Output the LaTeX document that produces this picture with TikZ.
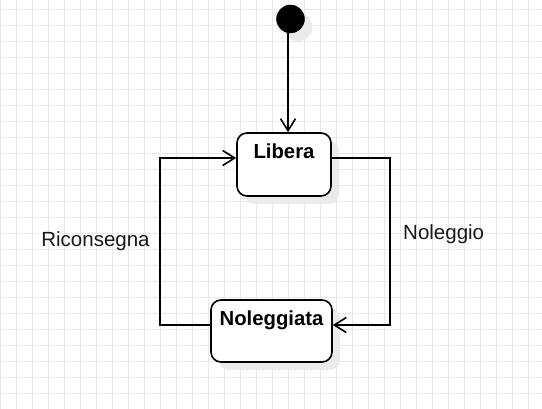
\documentclass[tikz,border=0pt]{standalone}
\usepackage{fontspec}
\setmainfont{Liberation Sans}
\usetikzlibrary{arrows.meta,calc}
\begin{document}
\begin{tikzpicture}[x=1pt,y=-1pt,
  gridline/.style={draw=black!9,line width=0.7pt},
  statebox/.style={draw=black,line width=1.6pt,fill=white,rounded corners=10pt,inner sep=0pt},
  shadowbox/.style={fill=black!8,rounded corners=10pt,draw=none,inner sep=0pt},
  conn/.style={draw=black,line width=1.6pt},
  arr/.style={conn,-{Straight Barb[length=12pt,width=15pt,line width=1.6pt]}},
  lbl/.style={font=\fontsize{20.5}{24}\selectfont,text=black!90,anchor=base,inner sep=0pt},
  stt/.style={font=\fontsize{20.3}{24}\selectfont\bfseries,anchor=base,inner sep=0pt}]
\useasboundingbox (0,0) rectangle (542,409);
\fill[white] (0,0) rectangle (542,409);
% grid
\foreach \i in {0,...,33} {\draw[gridline] (0.3+16*\i,0) -- (0.3+16*\i,409);}
\foreach \j in {0,...,25} {\draw[gridline] (0,9.3+16*\j) -- (542,9.3+16*\j);}
% shadows
\fill[black!8] (298.5,27) circle (14);
\node[shadowbox,minimum width=94pt,minimum height=63pt] at (292,172.5) {};
\node[shadowbox,minimum width=121pt,minimum height=62pt] at (279.5,339) {};
% nodes
\node[circle,fill=black,draw=black,inner sep=0pt,minimum size=28pt] (init) at (290.5,19) {};
\node[statebox,minimum width=94pt,minimum height=63pt,
  label={[stt,yshift=-26.3pt]north:Libera}] (libera) at (284,164.5) {};
\node[statebox,minimum width=121pt,minimum height=62pt,
  label={[stt,yshift=-26.7pt]north:Noleggiata}] (noleggiata) at (271.5,331) {};
% connectors
\draw[arr] ([xshift=-2.5pt]init.south) -- ([xshift=-2.5pt]init.south |- libera.north);
\coordinate (r1) at (390,158);
\coordinate (r2) at (390,325);
\draw[arr] ([yshift=6.5pt]libera.east) -- (r1) -- (r2) -- ([yshift=6pt]noleggiata.east);
\coordinate (l1) at (160,325);
\coordinate (l2) at (160,158);
\draw[arr] ([yshift=6pt]noleggiata.west) -- (l1) -- (l2) -- ([yshift=6.5pt]libera.west);
% labels
\node[lbl] (ric) at (95.5,246.7) {Riconsegna};
\node[lbl] (nol) at (443.7,239.3) {Noleggio};
\end{tikzpicture}
\end{document}
